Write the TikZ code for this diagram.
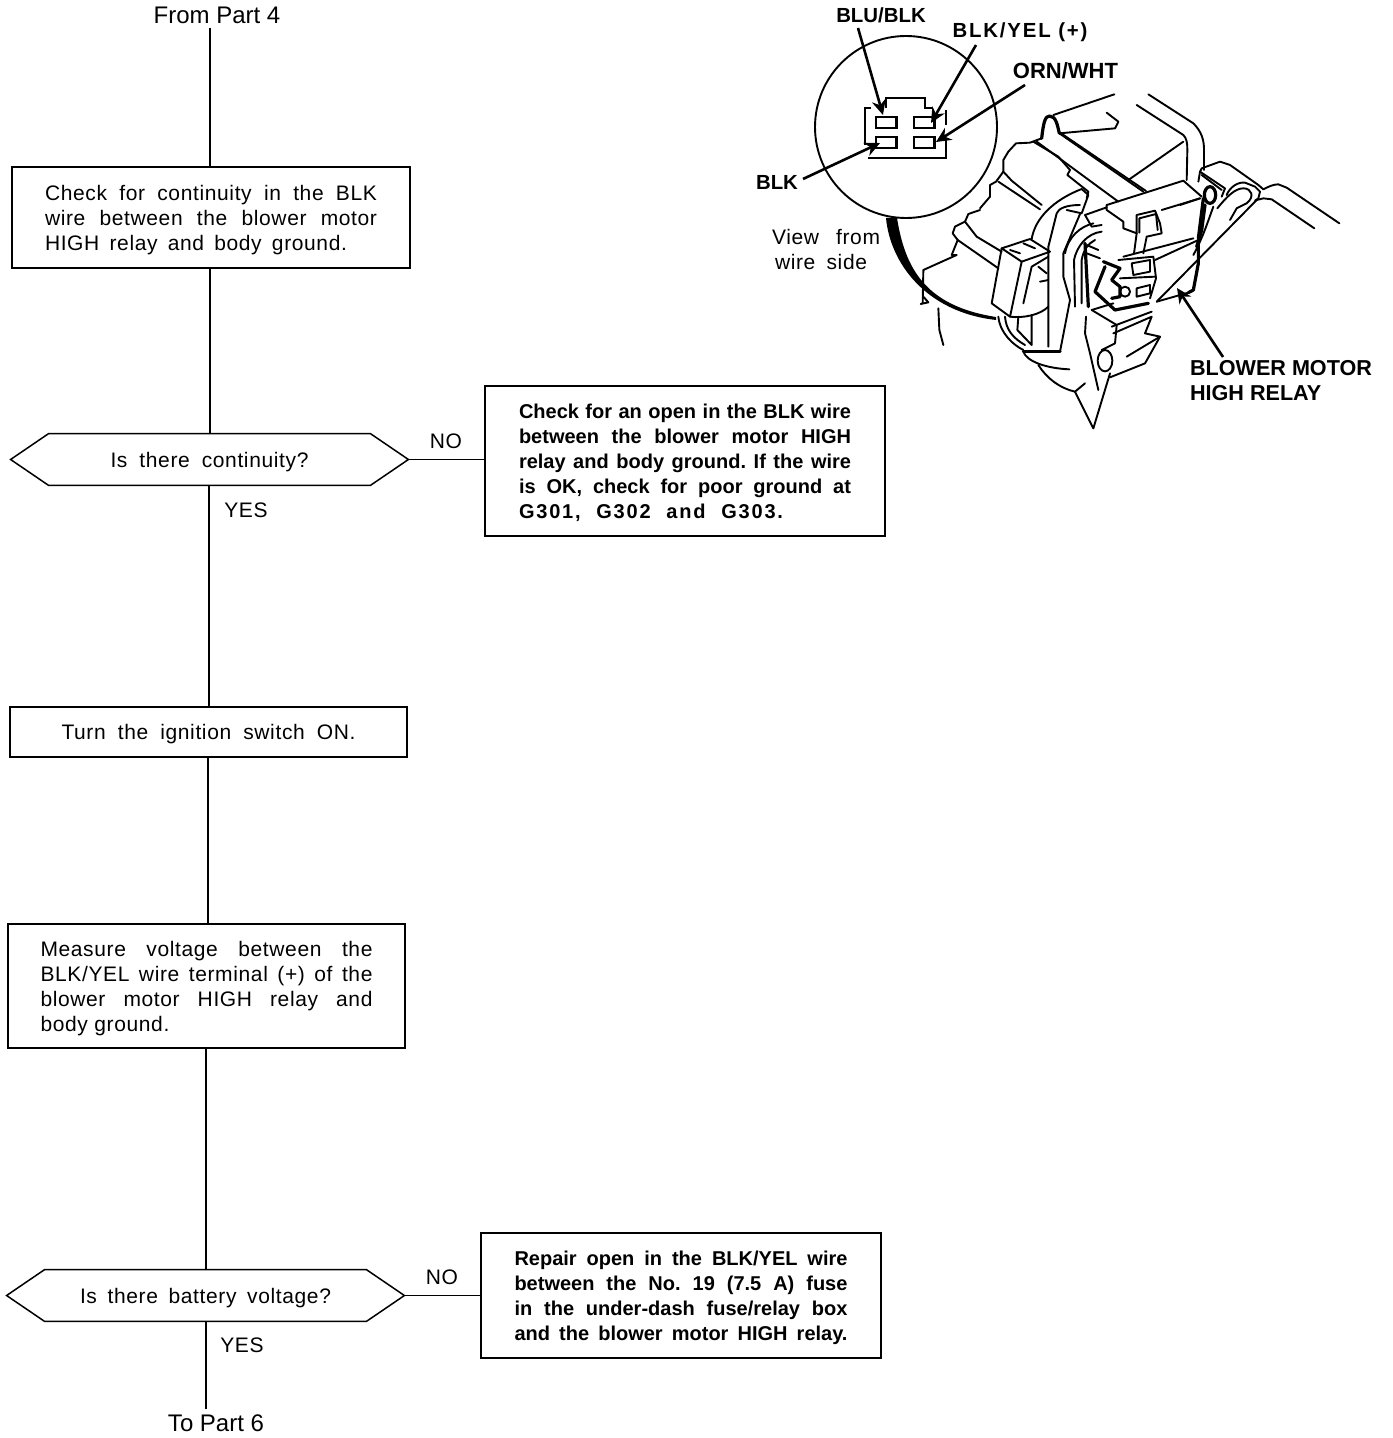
\documentclass[tikz,border=0pt]{standalone}
\usepackage{fontspec}
\usetikzlibrary{arrows.meta}
\setmainfont{Liberation Sans}
\newfontfamily\spaced[LetterSpace=3]{Liberation Sans}
\newfontfamily\wide[LetterSpace=9]{Liberation Sans}
\frenchspacing
\newcommand{\jl}[2]{\raisebox{-1.25pt}[7.5pt][2.2pt]{\hbox to \dimexpr#1pt/2\relax{#2}}}
\newcommand{\hexnode}[4]{%
  \node[hexbox] (#1) at (#2,#3) {#4};
  \draw[boxline] (#1.west) -- ([xshift=19pt]#1.north west) -- ([xshift=-19pt]#1.north east) -- (#1.east)
     -- ([xshift=-19pt]#1.south east) -- ([xshift=19pt]#1.south west) -- cycle;}
\tikzset{
  boxline/.style={line width=0.75pt,line join=miter},
  conn/.style={line width=0.7pt},
  stepbox/.style={draw,line width=0.75pt,inner sep=0pt,align=left,font=\spaced\fontsize{10.5}{12.5}\selectfont},
  boldbox/.style={draw,line width=0.75pt,inner sep=0pt,align=left,font=\fontsize{10}{12.5}\selectfont\bfseries},
  hexbox/.style={inner sep=0pt,minimum width=198.5pt,minimum height=25.5pt,font=\spaced\fontsize{10.5}{12.5}\selectfont},
  lab/.style={inner sep=0pt,font=\spaced\fontsize{10.5}{12.5}\selectfont},
  flow/.style={inner sep=0pt,font=\fontsize{12}{14}\selectfont},
  blab/.style={inner sep=0pt,font=\fontsize{10.2}{12.5}\selectfont\bfseries},
  bigb/.style={inner sep=0pt,align=left,font=\fontsize{10.8}{12.7}\selectfont\bfseries},
  pointer/.style={line width=1.3pt,-{Stealth[length=7.5pt,width=7pt]}},
  ill/.style={line width=0.95pt,line join=round,line cap=round},
  illb/.style={line width=1.6pt,line join=round,line cap=round},
}
\begin{document}
\begin{tikzpicture}[x=0.5pt,y=-0.5pt]
\useasboundingbox (0,0) rectangle (1392,1438);

% ---- flow chart
\node[flow] (from) at (217,15) {From Part 4};
\node[stepbox,minimum width=199pt,minimum height=50.5pt] (b1) at (211,217.5) {%
  \jl{332}{Check for continuity in the BLK}\\
  \jl{332}{wire between the blower motor}\\
  \jl{332}{HIGH relay and body ground.\hspace{15pt}}};
\hexnode{h1}{209.5}{459.5}{\jl{198}{Is there continuity?}}
\node[stepbox,minimum width=198.5pt,minimum height=25pt] (b2) at (208.5,732) {\jl{294}{Turn the ignition switch ON.}};
\node[stepbox,minimum width=198.5pt,minimum height=62pt] (b3) at (206.5,986) {%
  \jl{332}{Measure voltage between the}\\
  \jl{332}{BLK/YEL wire terminal (+) of the}\\
  \jl{332}{blower motor HIGH relay and}\\
  \jl{332}{body ground.\hfill}};
\hexnode{h2}{205.5}{1295.5}{\jl{251}{Is there battery voltage?}}
\node[flow] (to) at (216,1423) {To Part 6};
\node[boldbox,minimum width=200pt,minimum height=75pt] (n1) at (685,461) {%
  \jl{332}{Check for an open in the BLK wire}\\
  \jl{332}{between the blower motor HIGH}\\
  \jl{332}{relay and body ground. If the wire}\\
  \jl{332}{is OK, check for poor ground at}\\
  \jl{332}{\wide\bfseries G301, G302 and G303.\hspace{34pt}}};
\node[boldbox,minimum width=200pt,minimum height=62.5pt] (n2) at (681,1295.5) {%
  \jl{333}{Repair open in the BLK/YEL wire}\\
  \jl{333}{between the No. 19 (7.5 A) fuse}\\
  \jl{333}{in the under-dash fuse/relay box}\\
  \jl{333}{and the blower motor HIGH relay.}};
\node[lab] (no1) at (446,441) {NO};
\node[lab] (yes1) at (246,510) {YES};
\node[lab] (no2) at (442,1277) {NO};
\node[lab] (yes2) at (242,1345) {YES};

\draw[conn,shorten <=2pt] (from.south -| 210,0) -- (210,0 |- b1.north);
\draw[conn] (210,0 |- b1.south) -- (210,0 |- h1.north);
\draw[conn] (209,0 |- h1.south) -- (209,0 |- b2.north);
\draw[conn] (208,0 |- b2.south) -- (208,0 |- b3.north);
\draw[conn] (206,0 |- b3.south) -- (206,0 |- h2.north);
\draw[conn,shorten >=2.5pt] (206,0 |- h2.south) -- (206,0 |- to.north);
\draw[conn] (h1.east) -- (n1.west |- h1.east);
\draw[conn] (h2.east) -- (n2.west |- h2.east);

% ---- labels of the detail view
\node[blab] (lblu) at (881,15) {BLU/BLK};
\node[blab,font=\wide\fontsize{10.2}{12.5}\selectfont\bfseries] (lyel) at (1020,32) {BLK/YEL (+)};
\node[blab,font=\fontsize{11}{12.5}\selectfont\bfseries] (lorn) at (1065.5,71) {ORN/WHT};
\node[blab] (lblk) at (777,182) {BLK};
\node[lab,align=left] (lview) at (826,249) {\jl{108}{View from}\\\hspace{1.5pt}\jl{92}{wire side}};
\node[bigb] (lrelay) at (1281,380.5) {BLOWER MOTOR\\HIGH RELAY};

% ---- circle and connector
\coordinate (cc) at (906,127);
\draw[ill] (cc) circle [radius=45.5pt];
\fill (886,218) .. controls (890,262) and (925,312) .. (996,320)
      -- (996,317) .. controls (925,306) and (905,268) .. (897,218) -- cycle;
\draw[line width=1.4pt,line join=miter] (871,108) -- (865,108) -- (865,145);
\draw[line width=1.4pt,line join=miter] (868,158) -- (946,158) -- (946,140);
\draw[line width=1.4pt,line join=miter] (886,108) -- (886,98) -- (925,98) -- (925,108) -- (933,108);
\draw[line width=1.2pt,dash pattern=on 8pt off 1.5pt] (946,110) -- (946,125);
\foreach \a/\b in {876/117,914/117,876/137,914/137}
  \draw[line width=1.3pt] (\a,\b) rectangle ++(20.5,11);
\coordinate (tblu) at (858,28);
\coordinate (pblu) at (883,115);
\coordinate (tyel) at (976,45);
\coordinate (pyel) at (931,123);
\coordinate (torn) at (1025,85);
\coordinate (porn) at (936,142);
\coordinate (tblk) at (803,179);
\coordinate (pblk) at (880,143);
\coordinate (trelay) at (1223,357);
\coordinate (prelay) at (1177,288);
\draw[pointer] (tblu) -- (pblu);
\draw[pointer] (tyel) -- (pyel);
\draw[pointer] (torn) -- (porn);
\draw[pointer] (tblk) -- (pblk);
\draw[pointer] (trelay) -- (prelay);

% ---- left end of the drawing, in 3x crop coordinates
\begin{scope}[shift={(900,190)},x=0.16667pt,y=-0.16667pt]
 \draw[ill] (240,60) -- (205,72) -- (195,95) -- (165,110) -- (158,130) -- (173,150) -- (155,195) -- (170,195) -- (70,240) -- (68,340) -- (62,342) -- (85,337) -- (70,320);
 \draw[ill] (195,95) -- (230,140) -- (305,185);
 \draw[ill] (173,150) -- (295,235);
 \draw[ill] (115,355) -- (118,420) -- (130,465);
\end{scope}

% ---- blower drawing, in 3x crop coordinates
\begin{scope}[shift={(980,90)},x=0.16667pt,y=-0.16667pt]
 % top shell
 \draw[ill] (403,13) -- (220,75);
 \draw[illb] (185,145) .. controls (190,100) and (195,78) .. (208,78) .. controls (228,78) and (232,105) .. (238,130);
 \draw[ill] (238,130) -- (405,115) -- (415,95) -- (380,68);
 \draw[ill] (238,130) -- (490,305);
 \draw[ill] (246,132) -- (498,303);
 \draw[ill] (505,13) -- (640,100) .. controls (665,125) and (672,150) .. (672,180) -- (672,240);
 \draw[ill] (470,45) -- (610,135) .. controls (620,145) and (622,160) .. (622,180) -- (620,270);
 \draw[ill] (610,155) -- (445,270);
 % left blob
 \draw[ill] (185,145) -- (150,158) -- (108,160) -- (85,185) -- (70,210) -- (70,245) -- (95,272) -- (185,345);
 \draw[ill] (160,155) -- (235,200) -- (270,240) -- (262,255) -- (325,305) -- (320,325);
 \draw[ill] (170,155) -- (415,335);
 \draw[ill] (70,245) -- (48,275) -- (30,285) -- (30,320) -- (0,355);
 \draw[ill] (55,275) -- (180,358);
 % left connector
 \draw[ill] (65,475) -- (150,447) -- (210,485) -- (125,515) -- cycle;
 \draw[ill] (65,475) -- (35,640) -- (90,680) -- (125,515);
 \draw[ill] (90,480) -- (120,490) (130,460) -- (165,475);
 \draw[ill] (130,640) -- (155,530) -- (205,500);
 \draw[ill] (180,575) -- (205,570) (175,530) -- (200,550);
 \draw[ill] (90,680) .. controls (130,685) and (180,675) .. (205,650);
 % hose
 \draw[ill] (155,447) .. controls (165,385) and (220,330) .. (305,297) -- (325,315) -- (305,370) -- (260,360);
 \draw[ill] (300,345) .. controls (260,345) and (235,355) .. (230,370) -- (205,470) -- (205,770);
 \draw[ill] (240,785) -- (270,630) -- (250,560) -- (250,490) -- (300,372);
 \draw[illb] (130,785) -- (240,785);
 \draw[ill] (130,785) .. controls (140,815) and (200,835) .. (268,838);
 \draw[ill] (55,680) .. controls (60,730) and (100,765) .. (130,780);
 \draw[ill] (75,680) .. controls (78,720) and (100,745) .. (135,765);
 \draw[ill] (115,680) -- (112,720) -- (155,765) -- (155,675);
 \draw[ill] (175,825) .. controls (200,865) and (240,895) .. (285,905) -- (315,880);
 \draw[ill] (285,905) -- (340,1015) -- (390,850);
 \draw[ill] (318,680) -- (315,730) -- (330,790) -- (355,900);
 % relay
 \draw[ill] (380,345) -- (610,272) -- (665,320);
 \draw[ill] (380,345) -- (380,360) -- (430,395) -- (430,415) -- (470,430) -- (470,375) -- (525,362) -- (540,400) -- (545,430) -- (500,440) -- (490,490);
 \draw[ill] (478,428) -- (478,385) -- (528,372) -- (533,420);
 \draw[ill] (470,430) -- (462,490);
 \draw[ill] (315,375) -- (380,352);
 \draw[ill] (315,375) -- (335,410) -- (365,405);
 \draw[ill] (255,490) .. controls (265,440) and (300,410) .. (340,400);
 \draw[ill] (285,650) -- (282,510) .. controls (290,470) and (320,430) .. (365,425);
 \draw[ill] (305,640) -- (305,510) .. controls (310,480) and (325,460) .. (345,450);
 \draw[illb] (315,460) -- (325,650);
 \draw[ill] (320,465) -- (355,480) (320,490) -- (360,505);
 \draw[ill] (545,360) -- (660,325);
 \draw[illb] (670,325) -- (655,445);
 \draw[ill] (525,510) -- (655,450);
 \draw[ill] (430,500) -- (640,445);
 % clip
 \draw[illb] (370,515) -- (420,535) -- (395,570) -- (420,590) -- (420,620) -- (395,625);
 \draw[illb] (375,530) -- (345,605) -- (405,660) -- (505,640);
 \draw[ill] (415,510) -- (520,500) -- (528,565) -- (510,625);
 \draw[ill] (455,520) -- (510,510) -- (510,545) -- (460,555) -- cycle;
 \draw[ill] (470,595) -- (510,585) -- (510,610) -- (470,620) -- cycle;
 \draw[ill] (435,605) circle [radius=15];
 \draw[ill] (420,565) -- (525,560);
 % lower part
 \draw[ill] (335,660) -- (400,640);
 \draw[ill] (335,660) -- (410,705) -- (405,760) -- (365,780);
 \draw[ill] (395,710) -- (515,665);
 \draw[ill] (400,730) -- (515,680) -- (495,730) -- (540,740) -- (495,820) -- (390,862);
 \draw[ill] (440,800) -- (540,740);
 \draw[ill] (375,812) ellipse [x radius=22,y radius=32];
 % long diagonal and outer edge
 \draw[ill] (530,635) -- (830,330);
 \draw[illb] (655,450) -- (655,520) -- (640,600) -- (625,608);
 \draw[ill] (625,608) -- (530,635);
\end{scope}

% ---- right end of the drawing, in 3x crop coordinates
\begin{scope}[shift={(1180,140)},x=0.16667pt,y=-0.16667pt]
 \draw[ill] (55,125) -- (60,95) -- (65,85) -- (120,65) -- (150,75) -- (235,135) -- (250,148) .. controls (265,140) and (280,133) .. (295,133) -- (320,143) -- (478,250);
 \draw[ill] (60,95) -- (135,145) -- (125,170);
 \draw[ill] (65,105) -- (125,150);
 \draw[illb] (90,165) ellipse [x radius=17,y radius=25];
 \draw[ill] (140,165) .. controls (150,140) and (175,125) .. (195,128) -- (225,140) -- (240,155) -- (235,175) -- (225,182);
 \draw[ill] (230,180) -- (250,175) -- (275,178) -- (403,265);
 \draw[ill] (112,205) .. controls (140,170) and (165,145) .. (190,145) .. controls (215,145) and (225,170) .. (200,190) -- (170,205) -- (150,240);
 \draw[ill] (100,200) .. controls (85,240) and (70,290) .. (40,345);
 \draw[illb] (75,195) -- (65,270) -- (50,320);
 \draw[ill] (0,195) -- (60,175);
\end{scope}
\end{tikzpicture}
\end{document}
